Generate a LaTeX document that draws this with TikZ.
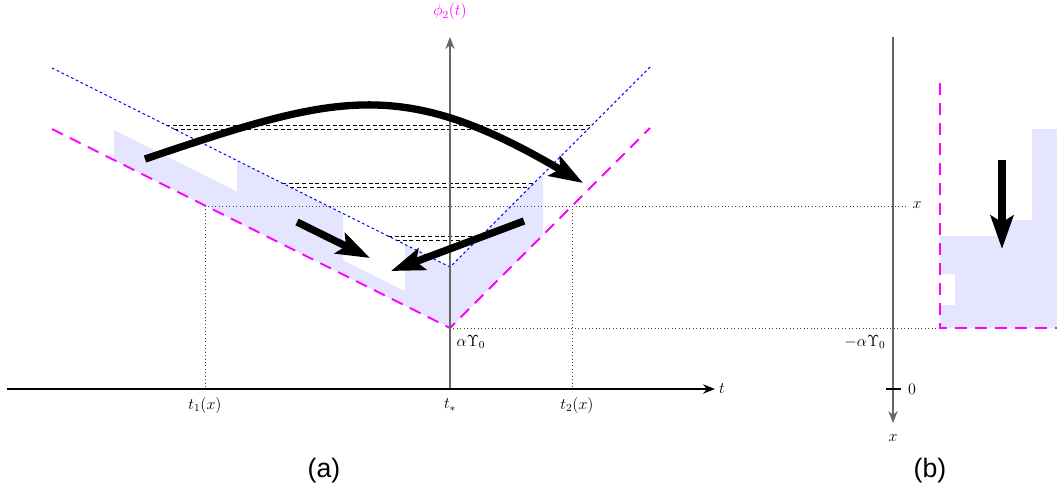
\documentclass[tikz,border=0pt]{standalone}
\usepackage{fontspec}
\newfontfamily\labelsans{Liberation Sans}
\usetikzlibrary{arrows.meta}
\definecolor{mag}{RGB}{255,0,255}
\definecolor{shadeblue}{RGB}{229,229,255}
\definecolor{vblue}{RGB}{0,0,255}
\begin{document}
\begin{tikzpicture}[x=0.75pt,y=-0.75pt,
  region/.style={fill=shadeblue, draw=none},
  bound/.style={mag, line width=1.5pt, dash pattern=on 9pt off 6pt},
  blueline/.style={vblue, line width=0.8pt, dash pattern=on 2pt off 2pt},
  level/.style={black, line width=0.6pt, dash pattern=on 3pt off 2pt},
  guide/.style={black!75, line width=0.6pt, dotted},
  axisline/.style={line width=1.1pt, -{Stealth[length=9pt,width=7pt]}},
  bigarrow/.style={line width=5.5pt, -{Stealth[length=25pt,width=17pt,inset=5pt]}},
  lab/.style={font=\fontsize{11.5}{14}\selectfont, inner sep=1pt},
  panel/.style={font=\labelsans\fontsize{20}{24}\selectfont, inner sep=0pt}
]
\useasboundingbox (0,0) rectangle (1057,496);

% shaded regions
\fill[region] (114,130) -- (237,191.5) -- (237,160.5) -- (343,213.5) -- (343,260)
  -- (405,291) -- (405,244.5) -- (450,267) -- (543,174) -- (543,235) -- (450,328)
  -- (114,160) -- cycle;
\fill[region] (940,328) -- (940,305) -- (955,305) -- (955,274) -- (940,274) -- (940,236)
  -- (1003,236) -- (1003,220) -- (1032,220) -- (1032,129) -- (1057,129) -- (1057,328) -- cycle;

% guide lines
\coordinate (t1top) at (205,206);
\coordinate (t1bot) at (205,389);
\coordinate (t2top) at (572,206);
\coordinate (t2bot) at (572,389);
\coordinate (xend) at (908,206);
\coordinate (vtx) at (450,328);
\coordinate (bcorner) at (940,328);
\draw[guide] (t1top) -- (xend);
\draw[guide] (t1top) -- (t1bot);
\draw[guide] (t2top) -- (t2bot);
\draw[guide] (vtx) -- (bcorner);

% dashed levels between branches of the blue V
\draw[level] (166,125) -- (592,125);
\draw[level] (174,129) -- (588,129);
\draw[level] (282,183) -- (534,183);
\draw[level] (290,187) -- (530,187);
\draw[level] (388,236) -- (481,236);
\draw[level] (396,240) -- (477,240);

% V curves
\coordinate (mL) at (52,129);
\coordinate (mR) at (650,128);
\coordinate (bL) at (52,68);
\coordinate (bV) at (450,267);
\coordinate (bR) at (650,67);
\draw[blueline] (bL) -- (bV) -- (bR);
\draw[bound] (mL) -- (vtx) -- (mR);

% axes (a)
\coordinate (tstart) at (7,389);
\coordinate (tend) at (715,389);
\coordinate (phitop) at (450,37);
\coordinate (phibot) at (450,389);
\draw[axisline, black!60] (phibot) -- (phitop);
\draw[axisline] (tstart) -- (tend);
\node[lab, mag] (phil) at (450,12) {$\phi_2(t)$};
\node[lab] (tl) at (722,389) {$t$};
\node[lab] (t1l) at (205,405) {$t_1(x)$};
\node[lab] (tsl) at (450,405) {$t_*$};
\node[lab] (t2l) at (577,405) {$t_2(x)$};
\node[lab] (al) at (471,342) {$\alpha\Upsilon_0$};

% panel (b)
\coordinate (xtop) at (893,37);
\coordinate (xbot) at (893,423);
\coordinate (tickL) at (886,389);
\coordinate (tickR) at (901,389);
\coordinate (bTop) at (940,83);
\coordinate (bRight) at (1057,328);
\draw[axisline, black!60] (xtop) -- (xbot);
\draw[line width=0.8pt] (tickL) -- (tickR);
\draw[bound] (bTop) -- (bcorner) -- (bRight);
\node[lab] (xl) at (893,438) {$x$};
\node[lab] (zl) at (912,389) {$0$};
\node[lab] (mal) at (865,342) {$-\alpha\Upsilon_0$};
\node[lab] (xlev) at (917,205) {$x$};

% big arrows
\coordinate (a1s) at (145,159);
\coordinate (a1e) at (583,183);
\coordinate (a2s) at (297,222);
\coordinate (a2e) at (370,258);
\coordinate (a3s) at (524,221);
\coordinate (a3e) at (391,271);
\coordinate (a4s) at (1002,160);
\coordinate (a4e) at (1002,249);
\draw[bigarrow] (a1s) .. controls (335,95) and (400,75) .. (a1e);
\draw[bigarrow] (a2s) -- (a2e);
\draw[bigarrow] (a3s) -- (a3e);
\draw[bigarrow] (a4s) -- (a4e);

% panel labels
\node[panel] (pa) at (324,471) {(a)};
\node[panel] (pb) at (930,471) {(b)};
\end{tikzpicture}
\end{document}
